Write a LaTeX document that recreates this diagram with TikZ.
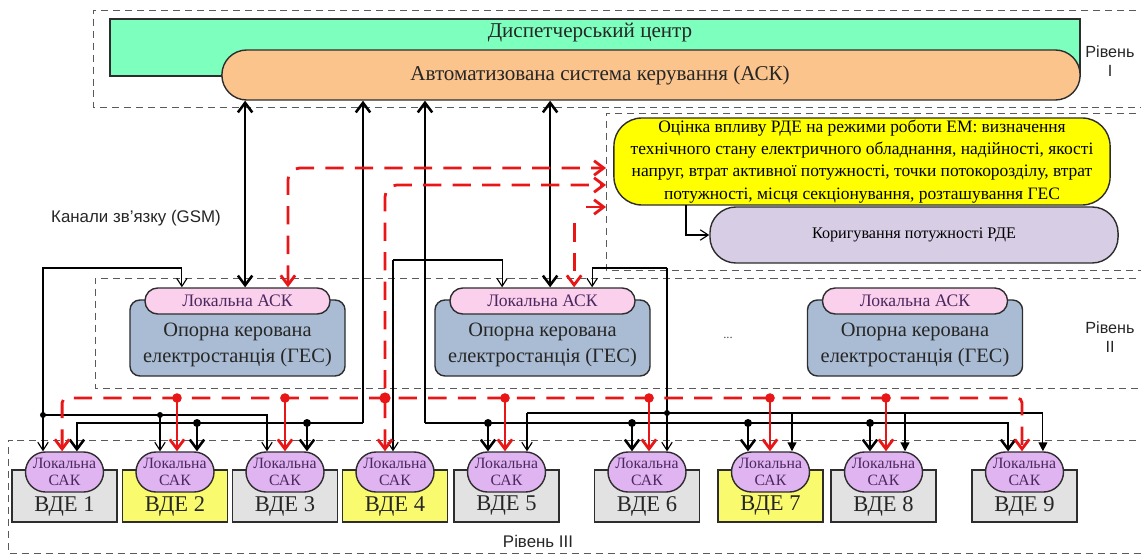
\documentclass[tikz,border=0pt]{standalone}
\usepackage{fontspec}
\setmainfont{Liberation Serif}
\setsansfont{Liberation Sans}
\usetikzlibrary{arrows.meta,calc}
\definecolor{dcgreen}{RGB}{125,255,190}
\definecolor{askorange}{RGB}{250,196,140}
\definecolor{evalyellow}{RGB}{255,255,0}
\definecolor{corrlilac}{RGB}{215,205,228}
\definecolor{stblue}{RGB}{170,188,212}
\definecolor{askpink}{RGB}{250,208,236}
\definecolor{sakviolet}{RGB}{224,180,240}
\definecolor{vdegray}{RGB}{226,226,226}
\definecolor{vdeyellow}{RGB}{250,250,110}
\definecolor{flowred}{RGB}{232,22,22}
\definecolor{framegray}{RGB}{90,90,90}
\definecolor{edgedark}{RGB}{45,45,45}
\definecolor{inkviolet}{RGB}{75,40,95}

\begin{document}
\begin{tikzpicture}[x=0.025cm, y=-0.025cm,
    frame/.style={draw=framegray, dash pattern=on 5pt off 3.5pt, line width=0.6pt},
    box/.style={draw=edgedark, line width=1pt},
    dcbox/.style={box, fill=dcgreen, minimum width=24.25cm, minimum height=1.425cm},
    askbox/.style={box, fill=askorange, rounded corners=0.62cm,
                   minimum width=21.45cm, minimum height=1.25cm},
    evalbox/.style={box, fill=evalyellow, rounded corners=0.7cm, align=center,
                    minimum width=12.4cm, minimum height=2.175cm, inner sep=0pt,
                    font=\fontsize{12.4}{15.8}\selectfont},
    corrbox/.style={box, fill=corrlilac, rounded corners=0.65cm,
                    minimum width=10.2cm, minimum height=1.4cm,
                    font=\fontsize{11.5}{14}\selectfont},
    station/.style={box, fill=stblue, rounded corners=0.25cm,
                    minimum width=5.375cm, minimum height=1.9cm},
    lask/.style={box, fill=askpink, rounded corners=0.32cm, text=inkviolet,
                 minimum width=4.625cm, minimum height=0.65cm, inner sep=0pt,
                 font=\fontsize{12.5}{14}\selectfont},
    sttext/.style={align=center, text=black!85, font=\fontsize{14.5}{18.5}\selectfont},
    ttl/.style={text=black!85, font=\fontsize{15}{17}\selectfont},
    vde/.style={box, minimum width=2.625cm, minimum height=1.3cm},
    vdetxt/.style={text=black!85, font=\fontsize{16}{18}\selectfont},
    sak/.style={box, fill=sakviolet, rounded corners=0.5cm, text=inkviolet,
                minimum width=1.95cm, minimum height=1cm, inner sep=0pt,
                align=center, font=\fontsize{11.2}{12.5}\selectfont},
    lvl/.style={align=center, text=black!85, font=\sffamily\fontsize{11.5}{14}\selectfont},
    thk/.style={line width=1.8pt, draw=black, >={Straight Barb[length=2.4mm,width=3.6mm]}},
    thn/.style={line width=0.8pt, draw=black, >={Straight Barb[length=2mm,width=2.6mm]}},
    fil/.style={line width=0.8pt, draw=black, >={Triangle[length=2.2mm,width=2.2mm]}},
    flow/.style={line width=2pt, draw=flowred, dash pattern=on 13pt off 8pt,
                 >={Straight Barb[length=2.4mm,width=3.6mm]}},
    drop/.style={line width=2pt, draw=flowred, >={Straight Barb[length=2.4mm,width=3.6mm]}},
    bdot/.style={circle, fill=black, inner sep=0pt, minimum size=2mm},
    sdot/.style={circle, fill=black, inner sep=0pt, minimum size=1.5mm},
    rdot/.style={circle, fill=flowred, inner sep=0pt, minimum size=2.4mm}
]
\useasboundingbox (0,0) rectangle (1141,556);

% level frames
\draw[frame] (1160,10) -- (93,10) -- (93,107) -- (1160,107);
\draw[frame] (1160,113) -- (606,113) -- (606,270) -- (1160,270);
\draw[frame] (1160,278) -- (95,278) -- (95,388) -- (1160,388);
\draw[frame] (1160,440) -- (8,440) -- (8,553) -- (1160,553);

% level I
\node[dcbox] (dc) at (595,47.5) {};
\node[ttl] (dct) at (590,33) {Диспетчерський центр};
\node[askbox] (ask) at (651,75) {};
\node[ttl] (askt) at (600,75) {Автоматизована система керування (АСК)};
\node[lvl] (lv1) at (1110,61) {Рівень\\I};

% evaluation
\node[evalbox] (eval) at (862,161.5)
    {Оцінка впливу РДЕ на режими роботи ЕМ: визначення\\
     технічного стану електричного обладнання, надійності, якості\\
     напруг, втрат активної потужності, точки потокорозділу, втрат\\
     потужності, місця секціонування, розташування ГЕС};
\node[corrbox] (corr) at (914,235) {Коригування потужності РДЕ};
\draw[thn, ->] (686,205) |- (corr.west);

\node[lvl, font=\sffamily\fontsize{12}{14}\selectfont] (gsm) at (136,218) {Канали зв'язку (GSM)};

% level II
\node[station] (st1) at (237.5,338) {};
\node[lask] (st1a) at (237.5,301) {Локальна АСК};
\node[sttext] (st1t) at (237.5,345) {Опорна керована\\електростанція (ГЕС)};
\node[station] (st2) at (542.5,338) {};
\node[lask] (st2a) at (542.5,301) {Локальна АСК};
\node[sttext] (st2t) at (542.5,345) {Опорна керована\\електростанція (ГЕС)};
\node[station] (st3) at (915,338) {};
\node[lask] (st3a) at (915,301) {Локальна АСК};
\node[sttext] (st3t) at (915,345) {Опорна керована\\електростанція (ГЕС)};
\node[text=black!70, font=\fontsize{9}{10}\selectfont] (more) at (728,338) {...};
\node[lvl] (lv2) at (1110,337) {Рівень\\II};

% level III
\node[vde, fill=vdegray] (v1) at (64.5,496) {};
\node[vdetxt] (v1t) at (64.5,506) {ВДЕ 1};
\node[sak] (s1) at (64.5,472) {Локальна\\САК};
\node[vde, fill=vdeyellow] (v2) at (175,496) {};
\node[vdetxt] (v2t) at (175,506) {ВДЕ 2};
\node[sak] (s2) at (175,472) {Локальна\\САК};
\node[vde, fill=vdegray] (v3) at (285,496) {};
\node[vdetxt] (v3t) at (285,506) {ВДЕ 3};
\node[sak] (s3) at (285,472) {Локальна\\САК};
\node[vde, fill=vdeyellow] (v4) at (395,496) {};
\node[vdetxt] (v4t) at (395,506) {ВДЕ 4};
\node[sak] (s4) at (395,472) {Локальна\\САК};
\node[vde, fill=vdegray] (v5) at (506.5,496) {};
\node[vdetxt] (v5t) at (506.5,506) {ВДЕ 5};
\node[sak] (s5) at (506.5,472) {Локальна\\САК};
\node[vde, fill=vdegray] (v6) at (647,496) {};
\node[vdetxt] (v6t) at (647,506) {ВДЕ 6};
\node[sak] (s6) at (647,472) {Локальна\\САК};
\node[vde, fill=vdeyellow] (v7) at (770.5,496) {};
\node[vdetxt] (v7t) at (770.5,506) {ВДЕ 7};
\node[sak] (s7) at (770.5,472) {Локальна\\САК};
\node[vde, fill=vdegray] (v8) at (883.5,496) {};
\node[vdetxt] (v8t) at (883.5,506) {ВДЕ 8};
\node[sak] (s8) at (883.5,472) {Локальна\\САК};
\node[vde, fill=vdegray] (v9) at (1024.5,496) {};
\node[vdetxt] (v9t) at (1024.5,506) {ВДЕ 9};
\node[sak] (s9) at (1024.5,472) {Локальна\\САК};
\node[lvl, font=\sffamily\fontsize{12}{14}\selectfont] (lv3) at (538,541) {Рівень III};

% GSM links to the ASK
\draw[thk, <->] ([xshift=0.19cm]st1a.north) -- ([xshift=0.19cm]st1a.north |- ask.south);
\draw[thk, <->] ([xshift=0.19cm]st2a.north) -- ([xshift=0.19cm]st2a.north |- ask.south);

% thick buses
\coordinate (b1r) at (363,423);
\node[bdot] (k2) at (197,423) {};
\node[bdot] (k3) at (307,423) {};
\draw[thk, ->] (b1r) -- (b1r |- ask.south);
\draw[thk, ->] (b1r) -| ([xshift=0.31cm]s1.north);
\draw[thk, ->] (k2.center) -- (k2.center |- s2.north);
\draw[thk, ->] (k3.center) -- (k3.center |- s3.north);
\coordinate (b2l) at (425,423);
\node[bdot] (k5) at (488,423) {};
\node[bdot] (k6) at (632,423) {};
\node[bdot] (k7) at (748,423) {};
\node[bdot] (k8) at (870,423) {};
\draw[thk, ->] (b2l) -- (b2l |- ask.south);
\draw[thk, ->] (b2l) -| ([xshift=-0.41cm]s9.north);
\draw[thk, ->] (k5.center) -- (k5.center |- s5.north);
\draw[thk, ->] (k6.center) -- (k6.center |- s6.north);
\draw[thk, ->] (k7.center) -- (k7.center |- s7.north);
\draw[thk, ->] (k8.center) -- (k8.center |- s8.north);

% thin links
\coordinate (t1up) at (43,268);
\node[sdot] (t1) at (43,415) {};
\node[sdot] (t2) at (160,415) {};
\draw[thn, ->] (t1.center) -- (t1up) -| ([xshift=-1.39cm]st1a.north);
\draw[thn, ->] (t1.center) -- (t1.center |- s1.north);
\draw[thn, ->] (t1.center) -| ([xshift=-0.45cm]s3.north);
\draw[thn, ->] (t2.center) -- (t2.center |- s2.north);
\coordinate (t4up) at (393,260);
\draw[thn, ->] (t4up) -- (t4up |- s4.north);
\draw[thn, ->] (t4up) -| ([xshift=-1.01cm]st2a.north);
\coordinate (t6up) at (667,268);
\node[sdot] (t6) at (667,413) {};
\draw[thn, ->] (t6up) -- (t6up |- s6.north);
\draw[thn, ->] (t6up) -| ([xshift=1.24cm]st2a.north);
\coordinate (t5) at (527,413);
\coordinate (t7) at (792,413);
\coordinate (t8) at (905,413);
\draw[thn, ->] (t5) -- (t5 |- s5.north);
\draw[fil, ->] (t5) -| ([xshift=0.46cm]s9.north);
\draw[fil, ->] (t7) -- (t7 |- s7.north);
\draw[fil, ->] (t8) -- (t8 |- s8.north);

% red information flows
\coordinate (inA) at (606,168);
\coordinate (inB) at (606,185);
\coordinate (inC) at (606,207);
\draw[flow, <->, rounded corners=0.3cm] ([xshift=1.26cm]st1a.north) |- (inA);
\draw[flow, <->, rounded corners=0.3cm] ([xshift=-0.25cm]s4.north) |- (inB);
\draw[flow, ->] ([xshift=-0.5cm]inC) -- (inC);
\draw[flow, ->] ([xshift=0.79cm,yshift=1.6cm]st2a.north) -- ([xshift=0.79cm]st2a.north);
\coordinate (rbR) at (1022,398);
\draw[flow, <->, rounded corners=0.12cm] ([xshift=-0.06cm]s1.north) |- (rbR) -- (rbR |- s9.north);
\node[rdot] (r2) at (177,398) {};
\node[rdot] (r3) at (285,398) {};
\node[rdot, minimum size=2.8mm] (r4) at (385,398) {};
\node[rdot] (r5) at (505,398) {};
\node[rdot] (r6) at (649,398) {};
\node[rdot] (r7) at (770,398) {};
\node[rdot] (r8) at (886,398) {};
\draw[drop, ->] (r2.center) -- (r2.center |- s2.north);
\draw[drop, ->] (r3.center) -- (r3.center |- s3.north);
\draw[drop, ->] (r5.center) -- (r5.center |- s5.north);
\draw[drop, ->] (r6.center) -- (r6.center |- s6.north);
\draw[drop, ->] (r7.center) -- (r7.center |- s7.north);
\draw[drop, ->] (r8.center) -- (r8.center |- s8.north);
\end{tikzpicture}
\end{document}
